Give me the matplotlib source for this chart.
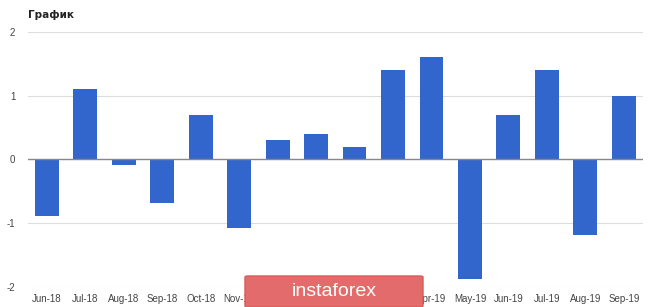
import numpy as np
import matplotlib.pyplot as plt
from matplotlib.patches import FancyBboxPatch

months = ['Jun-18', 'Jul-18', 'Aug-18', 'Sep-18', 'Oct-18', 'Nov-18', 'Dec-18', 'Jan-19',
          'Feb-19', 'Mar-19', 'Apr-19', 'May-19', 'Jun-19', 'Jul-19', 'Aug-19', 'Sep-19']
values = [-0.88, 1.1, -0.08, -0.69, 0.7, -1.08, 0.3, 0.4,
          0.2, 1.4, 1.6, -1.87, 0.7, 1.4, -1.19, 1.0]
yticks = [-2, -1, 0, 1, 2]

plt.rcParams['font.family'] = ['Liberation Sans', 'DejaVu Sans']

fig = plt.figure(figsize=(6.65, 3.07), dpi=100)
ax = fig.add_axes([0.042, 0.065, 0.925, 0.831])

x = np.arange(len(months))
ax.bar(x, values, width=0.62, color='#3366cc', zorder=3)

ax.set_xlim(-0.49, 15.5)
ax.set_ylim(-2, 2)
ax.set_yticks(yticks)
ax.set_yticklabels([str(v) for v in yticks])
ax.set_xticks(x)
ax.set_xticklabels(months)
ax.grid(axis='y', color='#dddddd', linewidth=0.8, zorder=0)
ax.axhline(0, color='#888888', linewidth=1, zorder=4)
for s in ax.spines.values():
    s.set_visible(False)
ax.tick_params(length=0, labelsize=7, labelcolor='#444444')
ax.tick_params(axis='x', pad=5)
ax.tick_params(axis='y', pad=9)

fig.text(0.042, 0.94, 'График', fontsize=7.5, fontweight='bold', color='#222222',
         family=['DejaVu Sans'])

# watermark
box = FancyBboxPatch((245 / 665, 0.0), 178 / 665, 31 / 307,
                     boxstyle='round,pad=0,rounding_size=0.004',
                     transform=fig.transFigure, facecolor='#e46b6b',
                     edgecolor='#d95b5b', zorder=10)
fig.patches.append(box)
fig.text(334 / 665, 15 / 307, 'instaforex', color='white', fontsize=14,
         ha='center', va='center', zorder=11)

plt.savefig('out.png')
